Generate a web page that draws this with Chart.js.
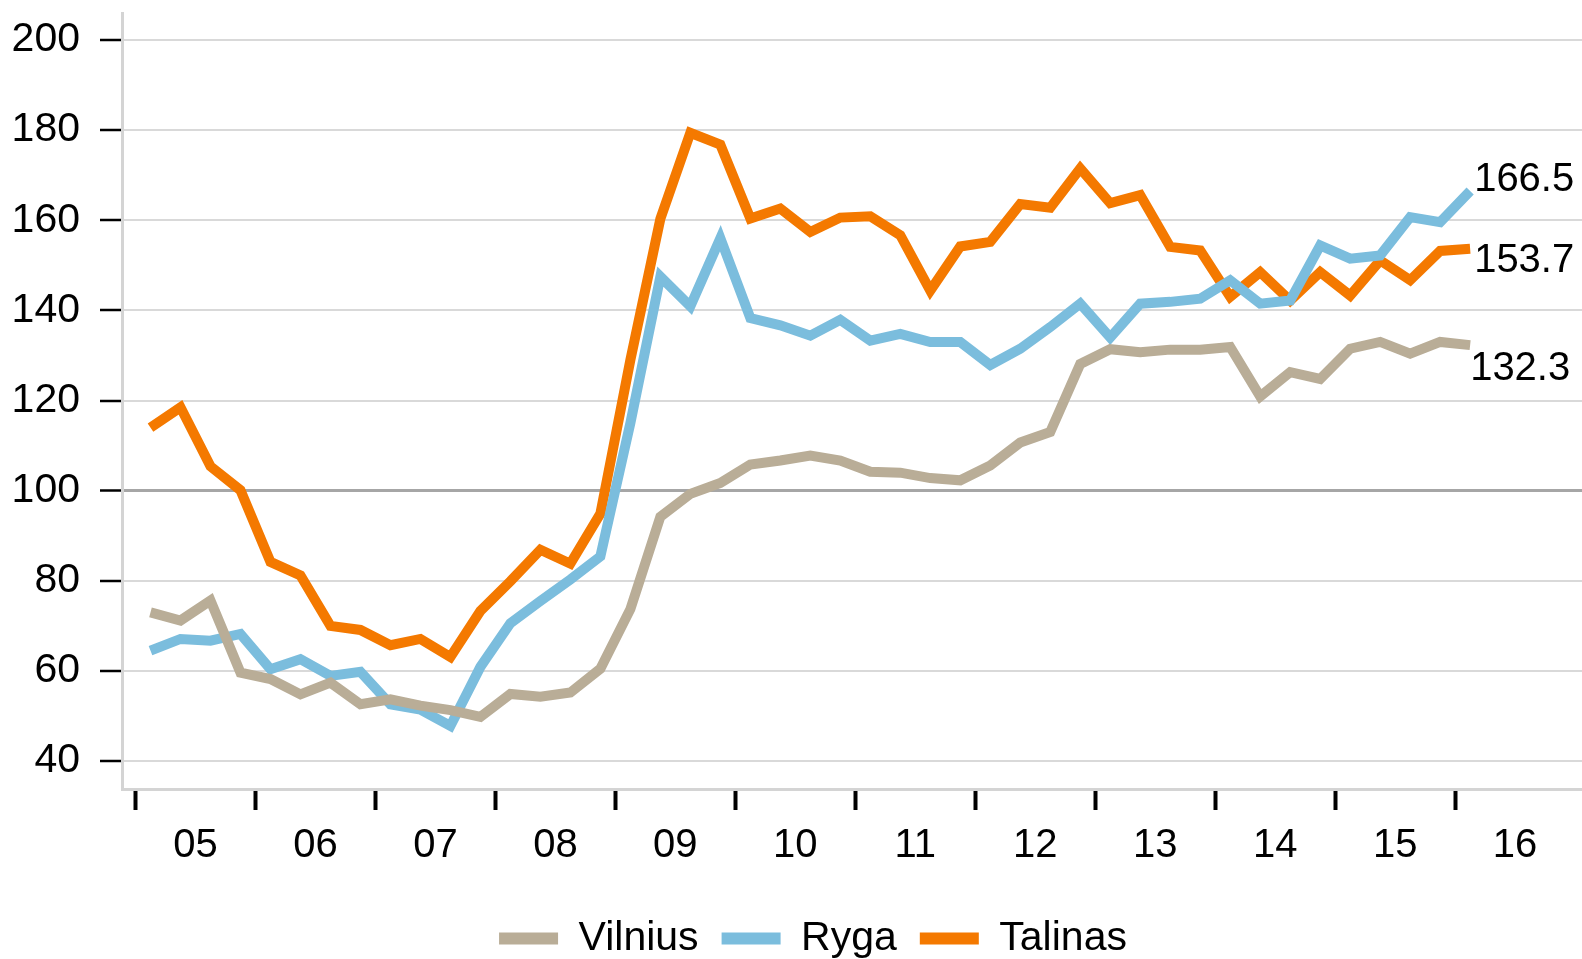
<!DOCTYPE html>
<html>
<head>
<meta charset="utf-8">
<title>Vilnius, Ryga, Talinas</title>
<script src="https://cdn.jsdelivr.net/npm/chart.js@4.4.1/dist/chart.umd.min.js"></script>
<style>
  html, body { margin: 0; padding: 0; background: #fff; }
  #chart-box { width: 1582px; height: 959px; }
</style>
</head>
<body>
<div id="chart-box"><canvas id="price-chart" width="1582" height="959"></canvas></div>
<script>
// quarterly values, 2005 Q1 .. 2016 Q1
const years = ["05", "06", "07", "08", "09", "10", "11", "12", "13", "14", "15", "16"];
const vilnius = [
  73.0, 71.2, 75.6, 59.6, 58.2, 54.8, 57.4, 52.6, 53.7, 52.3, 51.3, 49.8,
  54.9, 54.3, 55.2, 60.5, 73.7, 94.2, 99.3, 101.7, 105.8, 106.7, 107.8, 106.7,
  104.2, 104.0, 102.8, 102.3, 105.6, 110.7, 113.0, 128.1, 131.4, 130.7, 131.3, 131.3,
  131.9, 120.9, 126.3, 124.8, 131.5, 133.0, 130.4, 133.0, 132.3
];
const ryga = [
  64.5, 67.1, 66.7, 68.2, 60.4, 62.6, 58.9, 59.8, 52.6, 51.4, 47.8, 60.9,
  70.6, 75.5, 80.3, 85.4, 115.0, 147.5, 140.9, 156.0, 138.3, 136.7, 134.4, 137.9,
  133.3, 134.8, 133.0, 133.0, 127.9, 131.5, 136.3, 141.5, 134.0, 141.5, 141.9, 142.6,
  146.7, 141.5, 142.2, 154.4, 151.5, 152.2, 160.7, 159.6, 166.5
];
const talinas = [
  114.0, 118.5, 105.4, 100.1, 84.2, 81.2, 70.0, 69.1, 65.7, 67.1, 63.1, 73.3,
  79.9, 86.9, 83.8, 94.9, 129.0, 160.3, 179.4, 176.8, 160.4, 162.6, 157.4, 160.6,
  160.9, 156.7, 144.4, 154.2, 155.2, 163.6, 162.8, 171.5, 163.8, 165.6, 154.1, 153.3,
  143.0, 148.5, 142.2, 148.5, 143.3, 151.1, 146.7, 153.2, 153.7
];
const yTicks = [40, 60, 80, 100, 120, 140, 160, 180, 200];

Chart.defaults.font.family = "'Liberation Sans', Arial, sans-serif";
Chart.defaults.color = "#000";

// year boundaries get tick marks, year labels sit in the middle of each year
const yearStart = years.map((y, i) => i * 4 - 0.5);
const yearMid = years.map((y, i) => i * 4 + 1.5);
const isBoundary = (v) => yearStart.includes(v);

function points(values) {
  return values.map((v, i) => ({ x: i, y: v }));
}

function series(label, values, color) {
  return {
    label: label,
    data: points(values),
    borderColor: color,
    backgroundColor: color,
    borderWidth: 10,
    pointRadius: 0,
    tension: 0,
  };
}

// last value written next to the end of each line
const endLabelOffsets = [
  { dx: 0, dy: 24 },
  { dx: 4, dy: -11 },
  { dx: 4, dy: 12 },
];
const endLabels = {
  id: "endLabels",
  afterDatasetsDraw(chart) {
    const ctx = chart.ctx;
    ctx.save();
    ctx.font = "40px 'Liberation Sans', Arial, sans-serif";
    ctx.fillStyle = "#000";
    ctx.textAlign = "left";
    ctx.textBaseline = "middle";
    chart.data.datasets.forEach((ds, i) => {
      const meta = chart.getDatasetMeta(i);
      const last = meta.data[meta.data.length - 1];
      const value = ds.data[ds.data.length - 1].y;
      const off = endLabelOffsets[i];
      ctx.fillText(value.toFixed(1), last.x + off.dx, last.y + off.dy);
    });
    ctx.restore();
  },
};

// legend row sits a little right of the canvas centre
const legendShift = {
  id: "legendShift",
  afterLayout(chart) {
    chart.legend.left += 22;
    chart.legend.right += 22;
  },
};

const chart = new Chart(document.getElementById("price-chart"), {
  type: "line",
  data: {
    datasets: [
      series("Vilnius", vilnius, "#b9ad97"),
      series("Ryga", ryga, "#7bbddd"),
      series("Talinas", talinas, "#f47900"),
    ],
  },
  options: {
    responsive: false,
    animation: false,
    layout: { padding: { top: 13, right: 0, bottom: -10, left: 0 } },
    scales: {
      x: {
        type: "linear",
        min: -0.95,
        max: 47.73,
        afterBuildTicks(scale) {
          scale.ticks = yearStart.concat(yearMid).sort((a, b) => a - b).map((v) => ({ value: v }));
        },
        afterFit(scale) {
          scale.height = 106;
          scale.paddingLeft = 0;
          scale.paddingRight = 0;
        },
        ticks: {
          autoSkip: false,
          maxRotation: 0,
          padding: 12,
          font: { size: 40 },
          callback: (value) => {
            const k = yearMid.indexOf(value);
            return k >= 0 ? years[k] : "";
          },
        },
        grid: {
          drawOnChartArea: false,
          tickLength: 21,
          tickWidth: 4,
          tickColor: (ctx) => (ctx.tick && isBoundary(ctx.tick.value) ? "#000" : "rgba(0,0,0,0)"),
        },
        border: { color: "#d4d4d4", width: 3 },
      },
      y: {
        min: 33.8,
        max: 206,
        afterBuildTicks(scale) {
          scale.ticks = yTicks.map((v) => ({ value: v }));
        },
        afterFit(scale) {
          scale.width = 122;
          scale.paddingTop = 0;
          scale.paddingBottom = 0;
        },
        ticks: {
          padding: 20,
          font: { size: 41 },
        },
        grid: {
          color: (ctx) => (ctx.tick && ctx.tick.value === 100 ? "#a6a6a6" : "#d9d9d9"),
          lineWidth: (ctx) => (ctx.tick && ctx.tick.value === 100 ? 3 : 2),
          tickLength: 22,
          tickWidth: 2.5,
          tickColor: "#000",
        },
        border: { color: "#d4d4d4", width: 3 },
      },
    },
    plugins: {
      tooltip: { enabled: false },
      legend: {
        position: "bottom",
        labels: {
          boxWidth: 59,
          boxHeight: 12,
          padding: 23,
          font: { size: 41 },
          generateLabels(chart) {
            const items = Chart.defaults.plugins.legend.labels.generateLabels(chart);
            items.forEach((item) => {
              item.lineWidth = 0;
              item.fillStyle = item.strokeStyle;
            });
            return items;
          },
        },
      },
    },
  },
  plugins: [endLabels, legendShift],
});
</script>
</body>
</html>
